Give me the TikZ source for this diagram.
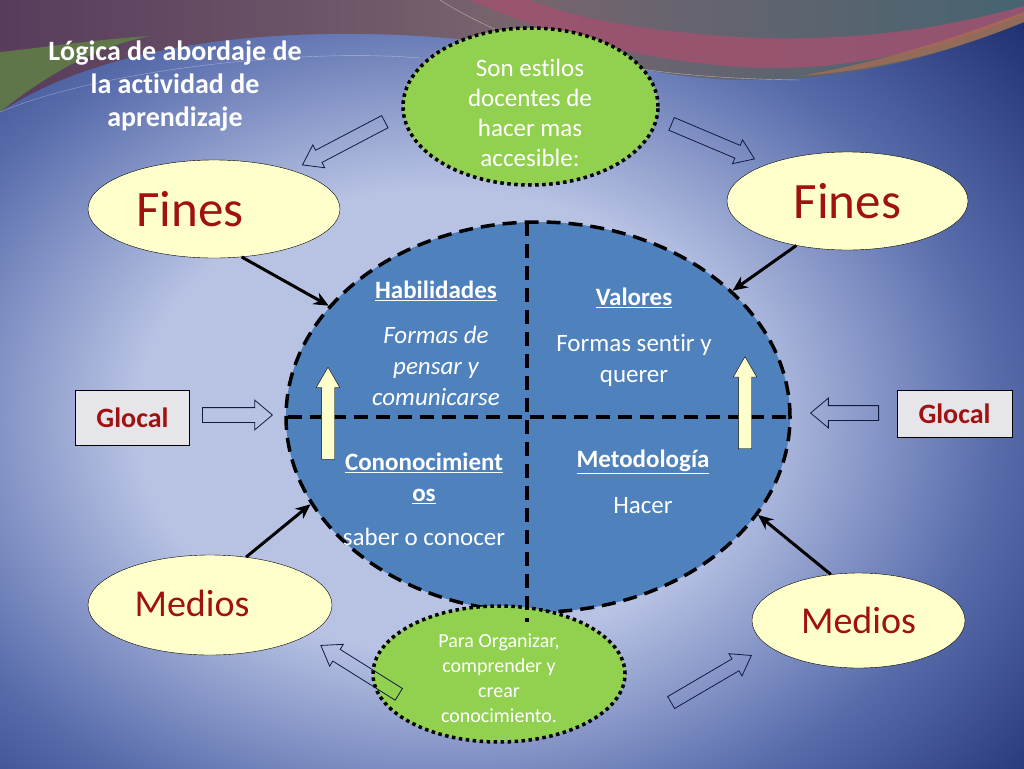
\documentclass[tikz,border=0pt]{standalone}
\usepackage{fontspec}
\setmainfont{Carlito}[Ligatures=NoCommon]
\usetikzlibrary{shapes.geometric, shapes.arrows, arrows.meta, positioning}

\definecolor{bgdark}{RGB}{26,42,108}
\definecolor{bgmid}{RGB}{88,108,172}
\definecolor{bglight}{RGB}{184,195,228}
\definecolor{wavepurple}{RGB}{88,60,92}
\definecolor{wavebrown}{RGB}{120,100,110}
\definecolor{waveteal}{RGB}{70,100,112}
\definecolor{wavepink}{RGB}{160,82,112}
\definecolor{wavegreen}{RGB}{96,128,70}
\definecolor{waveorange}{RGB}{176,110,80}
\definecolor{quadblue}{RGB}{79,129,189}
\definecolor{leafgreen}{RGB}{146,208,80}
\definecolor{cream}{RGB}{255,255,204}
\definecolor{wine}{RGB}{160,18,18}
\definecolor{boxgray}{RGB}{230,230,234}
\definecolor{navyline}{RGB}{18,26,66}

\pgfdeclareradialshading{backglow}{\pgfpointorigin}{%
  color(0bp)=(bglight); color(12bp)=(bglight); color(22bp)=(bgmid);
  color(32bp)=(bgdark); color(50bp)=(bgdark)}

\tikzset{>=Stealth}
\tikzset{
  oval/.style={ellipse, draw=black, thin, fill=cream, inner sep=0pt},
  greenoval/.style={ellipse, draw=black, fill=leafgreen, line width=3.5pt,
    dash pattern=on 3.5pt off 3.5pt, inner sep=0pt},
  bigword/.style={text=wine, font=\fontsize{51}{51}\selectfont},
  midword/.style={text=wine, font=\fontsize{38}{38}\selectfont},
  glocalbox/.style={rectangle, draw=black, thin, fill=boxgray, text=wine,
    font=\bfseries\fontsize{28}{28}\selectfont},
  quadtext/.style={text=white, align=center, font=\fontsize{25}{31}\selectfont},
  quadhead/.style={quadtext, font=\bfseries\fontsize{25}{31}\selectfont},
  greentext/.style={text=white, align=center},
  divider/.style={black, line width=3.5pt, dash pattern=on 14pt off 8pt},
  push/.style={->, black, line width=3pt, >={Stealth[length=15pt, width=13pt]}},
  blockarrow/.style={single arrow, draw=navyline, line width=0.8pt,
    inner sep=6.5pt, single arrow head extend=6pt, single arrow tip angle=70,
    minimum height=#1, anchor=center},
  yellowarrow/.style={single arrow, draw=black, thin, fill=cream,
    inner sep=6.5pt, single arrow head extend=5pt, single arrow tip angle=60,
    minimum height=92, rotate=90, anchor=center}
}

\begin{document}
\begin{tikzpicture}[x=1pt, y=-1pt]
  \useasboundingbox (0,0) rectangle (1024,768);
  % background
  \begin{scope}
    \clip (0,0) rectangle (1024,768);
    \shade[shading=backglow] (-190,-60) rectangle (1070,900);
    \shade[left color=wavepurple, right color=waveteal, middle color=wavebrown]
      (0,0) -- (1024,0) -- (1024,22) .. controls (930,60) and (840,82) .. (740,80)
      .. controls (640,78) and (560,45) .. (420,36)
      .. controls (280,28) and (110,40) .. (0,112) -- cycle;
    \fill[wavegreen, opacity=.85] (0,52) .. controls (40,48) and (90,40) .. (150,36)
      .. controls (90,48) and (40,80) .. (0,112) -- cycle;
    \fill[wavepink, opacity=.85] (470,0) .. controls (560,40) and (660,64) .. (760,68)
      .. controls (860,70) and (950,45) .. (1024,14) -- (1024,6)
      .. controls (930,32) and (850,40) .. (760,38)
      .. controls (660,34) and (570,18) .. (530,0) -- cycle;
    \fill[waveorange, opacity=.7] (1024,22) .. controls (950,52) and (880,70) .. (800,76)
      .. controls (880,62) and (950,40) .. (1024,12) -- cycle;
    \draw[white, opacity=.5, thin] (440,0) .. controls (520,50) and (620,78) .. (800,80);
    \draw[white, opacity=.4, thin] (0,112) .. controls (100,70) and (300,48) .. (420,58);
  \end{scope}

  % ovals round the centre
  \node[oval, minimum width=252, minimum height=98] (finesL) at (214,209) {};
  \node[oval, minimum width=241, minimum height=98] (finesR) at (847.5,201) {};
  \node[oval, minimum width=244, minimum height=100] (medL) at (210,605) {};
  \node[oval, minimum width=213, minimum height=95] (medR) at (858.5,620.5) {};
  \node[bigword] at ([xshift=-24pt]finesL.center) {Fines};
  \node[bigword] at (finesR.center) {Fines};
  \node[midword] at ([xshift=-18pt, yshift=2pt]medL.center) {Medios};
  \node[midword] at (medR.center) {Medios};

  % centre
  \node[ellipse, draw=black, fill=quadblue, line width=3.5pt,
    dash pattern=on 14pt off 8pt, minimum width=504, minimum height=390]
    (centro) at (538,417) {};

  \node[greenoval, minimum width=255, minimum height=157] (topG) at (530.5,106.5) {};
  \node[greenoval, minimum width=252, minimum height=136] (botG) at (499,674) {};
  \node[greentext, font=\fontsize{25}{30}\selectfont] at (530,113)
    {Son estilos\\docentes de\\hacer mas\\accesible:};
  \node[greentext, font=\fontsize{20}{25}\selectfont] at (499,678)
    {Para Organizar,\\comprender y\\crear\\conocimiento.};

  \draw[divider] (527,222) -- (527,622);
  \draw[divider] (288,417) -- (790,417);

  \node[quadhead] (habT) at (436,291) {\underline{Habilidades}};
  \node[quadtext, font=\itshape\fontsize{25}{31}\selectfont] (habB) at (436,366)
    {Formas de\\pensar y\\comunicarse};
  \node[quadhead] (valT) at (634,298) {\underline{Valores}};
  \node[quadtext] (valB) at (634,360) {Formas sentir y\\querer};
  \node[quadhead] (conT) at (424,478) {\underline{Cononocimient}\\\underline{os}};
  \node[quadtext] (conB) at (424,537) {saber o conocer};
  \node[quadhead] (metT) at (643,462) {\underline{Metodología}};
  \node[quadtext] (metB) at (643,506) {Hacer};

  \node[yellowarrow] (upL) at (328,419) {};
  \node[yellowarrow] (upR) at (745,408.5) {};

  % glocal boxes
  \node[glocalbox, minimum width=114, minimum height=55] (glocalL) at (132.5,417.5) {Glocal};
  \node[glocalbox, minimum width=115, minimum height=47] (glocalR) at (954.5,413.5) {Glocal};

  % black arrows into the centre
  \foreach \from/\to in {finesL.-60/centro.152, finesR.221/centro.33,
                         medL.53/centro.201, medR.121/centro.-24}
    \draw[push] (\from) -- (\to);

  % hollow arrows
  \foreach \nm/\x/\y/\ang/\len in {haTL/348/141/207.7/93, haTR/708.5/139.5/-22.9/90,
                                   haBL/364/672.5/147.9/92, haBR/707/681.5/30.4/93}
    \node[blockarrow=\len, rotate=\ang] (\nm) at (\x,\y) {};
  \node[blockarrow=70, inner sep=7pt, single arrow head extend=7.5pt,
    single arrow tip angle=80] (haGL) at (233,415) {};
  \node[blockarrow=68, inner sep=7pt, single arrow head extend=7.5pt,
    single arrow tip angle=80, rotate=180] (haGR) at (849,413) {};

  % title
  \node[text=white, align=center, font=\bfseries\fontsize{28}{33}\selectfont]
    (titulo) at (175,86) {Lógica de abordaje de\\la actividad de\\aprendizaje};
\end{tikzpicture}
\end{document}
